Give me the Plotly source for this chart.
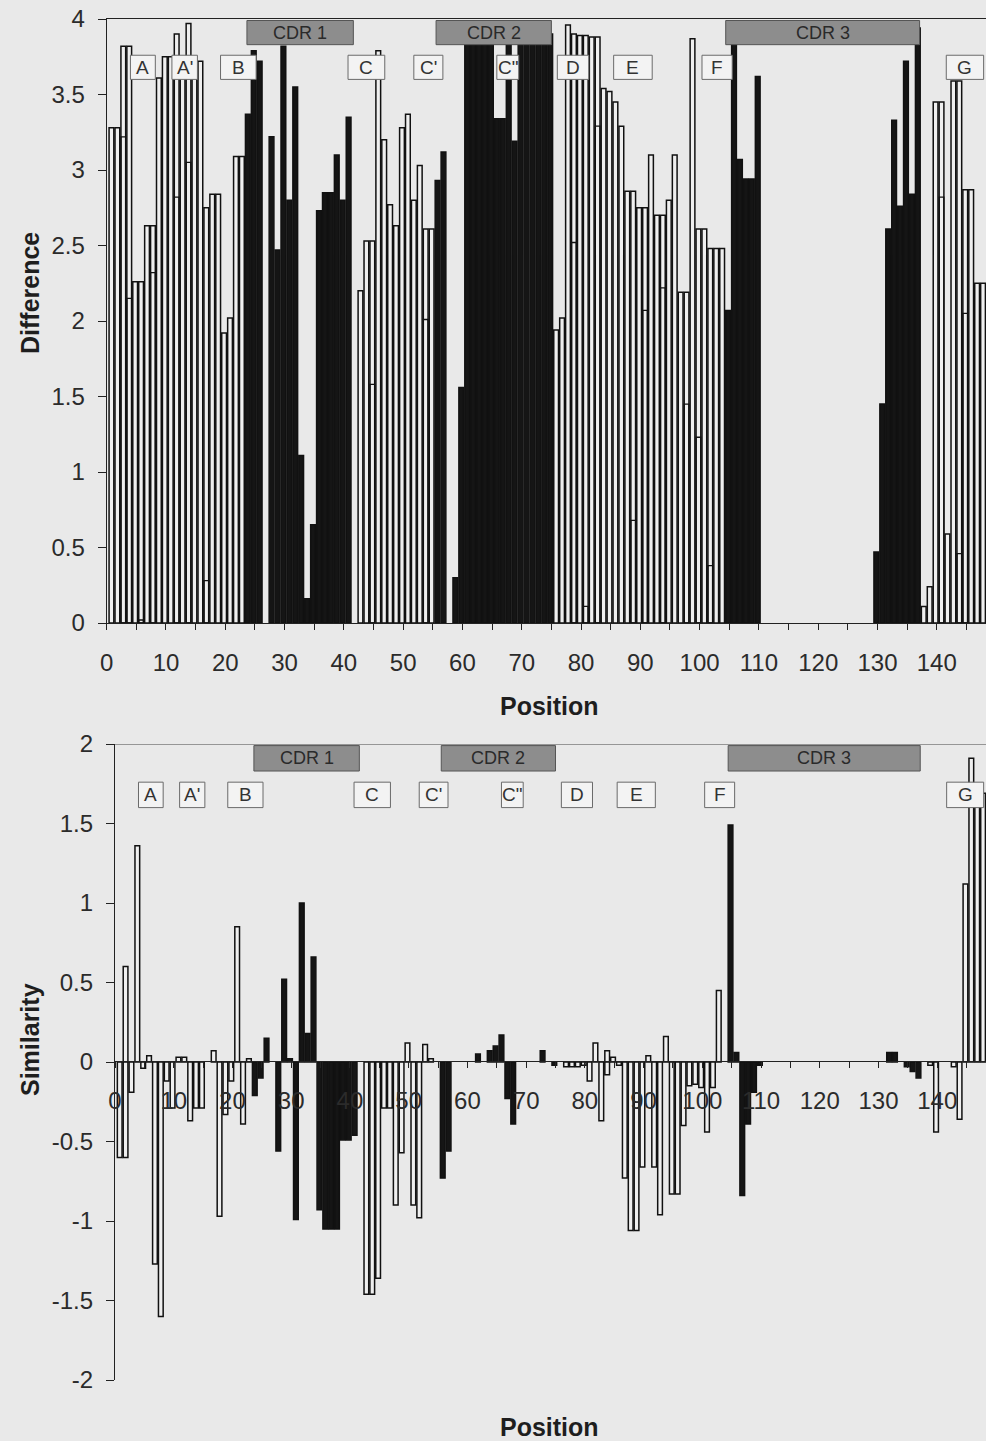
import plotly.graph_objects as go

# Residue positions along the domain
positions = list(range(1, 149))

# Difference score per position (None = no bar)
difference = [
    3.28, 3.28, 3.82, 3.82, 2.26, 2.26, 2.63, 2.63, 3.61, 3.75,   # 1-10
    3.75, 3.90, 3.75, 3.97, 3.72, 3.72, 2.75, 2.84, 2.84, 1.92,   # 11-20
    2.02, 3.09, 3.09, 3.37, 3.79, 3.72, None, 3.22, 2.47, 3.82,   # 21-30
    2.80, 3.55, 1.11, 0.16, 0.65, 2.73, 2.85, 2.85, 3.10, 2.80,   # 31-40
    3.35, None, 2.20, 2.53, 2.53, 3.79, 3.20, 2.77, 2.63, 3.28,   # 41-50
    3.37, 2.80, 3.03, 2.61, 2.61, 2.93, 3.12, None, 0.30, 1.56,   # 51-60
    3.90, 3.90, 3.90, 3.90, 3.90, 3.34, 3.34, 3.90, 3.19, 3.90,   # 61-70
    3.90, 3.90, 3.90, 3.90, 3.90, 1.94, 2.02, 3.96, 3.90, 3.89,   # 71-80
    3.89, 3.88, 3.88, 3.54, 3.52, 3.45, 3.29, 2.86, 2.86, 2.75,   # 81-90
    2.75, 3.10, 2.70, 2.70, 2.80, 3.10, 2.19, 2.19, 3.87, 2.61,   # 91-100
    2.61, 2.48, 2.48, 2.48, 2.07, 3.90, 3.07, 2.94, 2.94, 3.62,   # 101-110
    None, None, None, None, None, None, None, None, None, None,   # 111-120
    None, None, None, None, None, None, None, None, None, 0.47,   # 121-130
    1.45, 2.61, 3.33, 2.76, 3.72, 2.84, 3.94, 0.11, 0.24, 3.45,   # 131-140
    3.45, 0.59, 3.59, 3.59, 2.87, 2.87, 2.25, 2.25,               # 141-148
]

# Second (lower) difference series, visible as an inner outline
inner_positions = [3, 4, 6, 8, 12, 14, 17, 45, 54, 79, 81, 83, 89, 91, 94,
                   98, 100, 102, 141, 144, 145]
inner_values = [3.22, 2.15, 0.02, 2.32, 2.82, 3.05, 0.28, 1.58, 2.01, 2.52, 0.11,
                3.29, 0.68, 2.07, 2.22, 1.45, 1.23, 0.38, 2.82, 0.46, 2.05]

# Similarity score per position (None = no bar)
similarity = [
    -0.60, 0.60, -0.19, 1.36, -0.04, 0.04, -1.27, -1.60, -0.12, -0.29,  # 1-10
    0.03, 0.03, -0.37, -0.29, -0.29, None, 0.07, -0.97, -0.33, -0.12,   # 11-20
    0.85, -0.39, 0.02, -0.21, -0.10, 0.15, None, -0.56, 0.52, 0.02,     # 21-30
    -0.99, 1.00, 0.18, 0.66, -0.93, -1.05, -1.05, -1.05, -0.49, -0.49,  # 31-40
    -0.46, None, -1.46, -1.46, -1.36, -0.29, -0.29, -0.90, -0.57, 0.12,  # 41-50
    -0.90, -0.98, 0.11, 0.02, None, -0.73, -0.56, None, None, None,     # 51-60
    None, 0.05, None, 0.07, 0.10, 0.17, -0.23, -0.39, None, None,       # 61-70
    None, None, 0.07, None, -0.02, None, -0.03, -0.03, -0.03, -0.02,    # 71-80
    -0.12, 0.12, -0.37, 0.07, 0.03, -0.02, -0.73, -1.06, -1.06, -0.66,  # 81-90
    0.04, -0.66, -0.96, 0.16, -0.83, -0.83, -0.40, -0.15, -0.14, -0.16,  # 91-100
    -0.44, -0.16, 0.45, None, 1.49, 0.06, -0.84, -0.39, -0.19, -0.02,   # 101-110
    None, None, None, None, None, None, None, None, None, None,         # 111-120
    None, None, None, None, None, None, None, None, None, None,         # 121-130
    None, 0.06, 0.06, None, -0.03, -0.06, -0.10, None, -0.02, -0.44,    # 131-140
    None, None, -0.03, -0.36, 1.12, 1.91, 1.69, 1.69,                   # 141-148
]

# Second similarity series where it differs in sign
second_positions = [2, 84]
second_values = [-0.60, -0.08]

# Position ranges drawn as filled (CDR) bars
cdr_bar_ranges = [(24, 41), (56, 75), (105, 137)]

# CDR header boxes (positions)
cdr_labels = ["CDR 1", "CDR 2", "CDR 3"]
cdr_starts = [23.65, 55.55, 104.4]
cdr_ends = [41.6, 75.0, 137.1]

# Beta-strand label boxes (positions)
strand_labels = ["A", "A'", "B", "C", "C'", 'C"', "D", "E", "F", "G"]
strand_starts = [4.0, 11.0, 19.2, 40.7, 51.8, 65.8, 76.0, 85.5, 100.4, 141.6]
strand_ends = [8.2, 15.3, 25.2, 46.9, 56.7, 69.5, 81.3, 92.0, 105.5, 147.9]

x_ticks = list(range(0, 150, 10))

W, H = 986, 1441
BG = "#e9e9e9"
BAR_LIGHT = "#efefef"
BAR_DARK = "#151515"
FONT = "Liberation Sans, Arial, sans-serif"


def is_cdr(p):
    return any(a <= p <= b for a, b in cdr_bar_ranges)


bar_colors = [BAR_DARK if is_cdr(p) else BAR_LIGHT for p in positions]
inner_colors = ["rgba(0,0,0,0)" for _ in inner_positions]
second_colors = [BAR_DARK if is_cdr(p) else BAR_LIGHT for p in second_positions]

bar_kw = dict(width=0.8, offset=-0.6, hoverinfo="skip", showlegend=False)
outline = dict(color="#111111", width=1.5)

fig = go.Figure()
fig.add_trace(go.Bar(x=positions, y=difference, xaxis="x", yaxis="y",
                     marker=dict(color=bar_colors, line=outline), **bar_kw))
fig.add_trace(go.Bar(x=inner_positions, y=inner_values, xaxis="x", yaxis="y",
                     marker=dict(color=inner_colors, line=dict(color="#111111", width=1.3)),
                     **bar_kw))
fig.add_trace(go.Bar(x=positions, y=similarity, xaxis="x2", yaxis="y2",
                     marker=dict(color=bar_colors, line=outline), **bar_kw))
fig.add_trace(go.Bar(x=second_positions, y=second_values, xaxis="x2", yaxis="y2",
                     marker=dict(color=second_colors, line=outline), **bar_kw))

# plot-area geometry in pixels
top_left, top_y4, top_y0 = 106.7, 19, 623
bot_left, bot_y2, bot_ym2, bot_zero = 115, 744, 1380, 1061
x_max = 148.3

tick_font = dict(family=FONT, size=24, color="#2b2b2b")
axis_common = dict(showgrid=False, zeroline=False, showline=True, automargin=False,
                   linecolor="#222222", linewidth=1.2, ticks="outside",
                   tickcolor="#222222", tickwidth=1, tickfont=tick_font)

xaxis_common = dict(axis_common, range=[0, x_max], tickmode="array",
                    tickvals=x_ticks, ticktext=[str(v) for v in x_ticks],
                    ticklen=6, ticklabelstandoff=12,
                    minor=dict(tickmode="array", tickvals=list(range(5, 150, 10)),
                               ticks="outside", ticklen=6, tickcolor="#222222"))

y_top_vals = [i * 0.5 for i in range(9)]
y_bot_vals = [-2 + i * 0.5 for i in range(9)]


def fmt(v):
    return "%g" % v


fig.update_layout(
    width=W, height=H,
    margin=dict(l=0, r=0, t=0, b=0, autoexpand=False),
    paper_bgcolor=BG, plot_bgcolor=BG,
    barmode="overlay",
    font=dict(family=FONT),
    xaxis=dict(xaxis_common, domain=[top_left / W, 1], anchor="y", mirror=True),
    yaxis=dict(axis_common, domain=[1 - top_y0 / H, 1 - top_y4 / H], anchor="x",
               range=[0, 4], tickmode="array", tickvals=y_top_vals,
               ticktext=[fmt(v) for v in y_top_vals], ticklen=8,
               ticklabelstandoff=8),
    xaxis2=dict(xaxis_common, domain=[bot_left / W, 1], anchor="free",
                position=1 - bot_zero / H),
    yaxis2=dict(axis_common, domain=[1 - bot_ym2 / H, 1 - bot_y2 / H], anchor="x2",
                range=[-2, 2], tickmode="array", tickvals=y_bot_vals,
                ticktext=[fmt(v) for v in y_bot_vals], ticklen=8,
                ticklabelstandoff=8),
)

shapes = []
annotations = []

# top border of the lower panel
shapes.append(dict(type="line", xref="x2", yref="y2", x0=0, x1=x_max, y0=2, y1=2,
                   line=dict(color="#444444", width=1.2), layer="above"))

panels = [("x", "y", 3.83, 3.99, 3.60, 3.76), ("x2", "y2", 1.83, 1.99, 1.60, 1.76)]
for xr, yr, c0, c1, s0, s1 in panels:
    for lab, a, b in zip(cdr_labels, cdr_starts, cdr_ends):
        shapes.append(dict(type="rect", xref=xr, yref=yr, x0=a, x1=b, y0=c0, y1=c1,
                           fillcolor="#8d8d8d", line=dict(color="#555555", width=1),
                           layer="above"))
        annotations.append(dict(xref=xr, yref=yr, x=(a + b) / 2, y=(c0 + c1) / 2,
                                text=lab, showarrow=False,
                                xanchor="center", yanchor="middle",
                                font=dict(family=FONT, size=18, color="#2a2a2a")))
    for lab, a, b in zip(strand_labels, strand_starts, strand_ends):
        shapes.append(dict(type="rect", xref=xr, yref=yr, x0=a, x1=b, y0=s0, y1=s1,
                           fillcolor="#f3f3f3", line=dict(color="#6a6a6a", width=1),
                           layer="above"))
        annotations.append(dict(xref=xr, yref=yr, x=(a + b) / 2, y=(s0 + s1) / 2,
                                text=lab, showarrow=False,
                                xanchor="center", yanchor="middle",
                                font=dict(family=FONT, size=19, color="#333333")))

title_font = dict(family=FONT, size=25, color="#1e1e1e")
title_kw = dict(xref="paper", yref="paper", showarrow=False,
                xanchor="center", yanchor="middle", font=title_font)
annotations += [
    dict(title_kw, x=549 / W, y=1 - 706 / H, text="<b>Position</b>"),
    dict(title_kw, x=549 / W, y=1 - 1427 / H, text="<b>Position</b>"),
    dict(title_kw, x=30 / W, y=1 - 293 / H, text="<b>Difference</b>", textangle=-90),
    dict(title_kw, x=30 / W, y=1 - 1040 / H, text="<b>Similarity</b>", textangle=-90),
]

fig.update_layout(shapes=shapes, annotations=annotations)
fig.write_html("out.html")
